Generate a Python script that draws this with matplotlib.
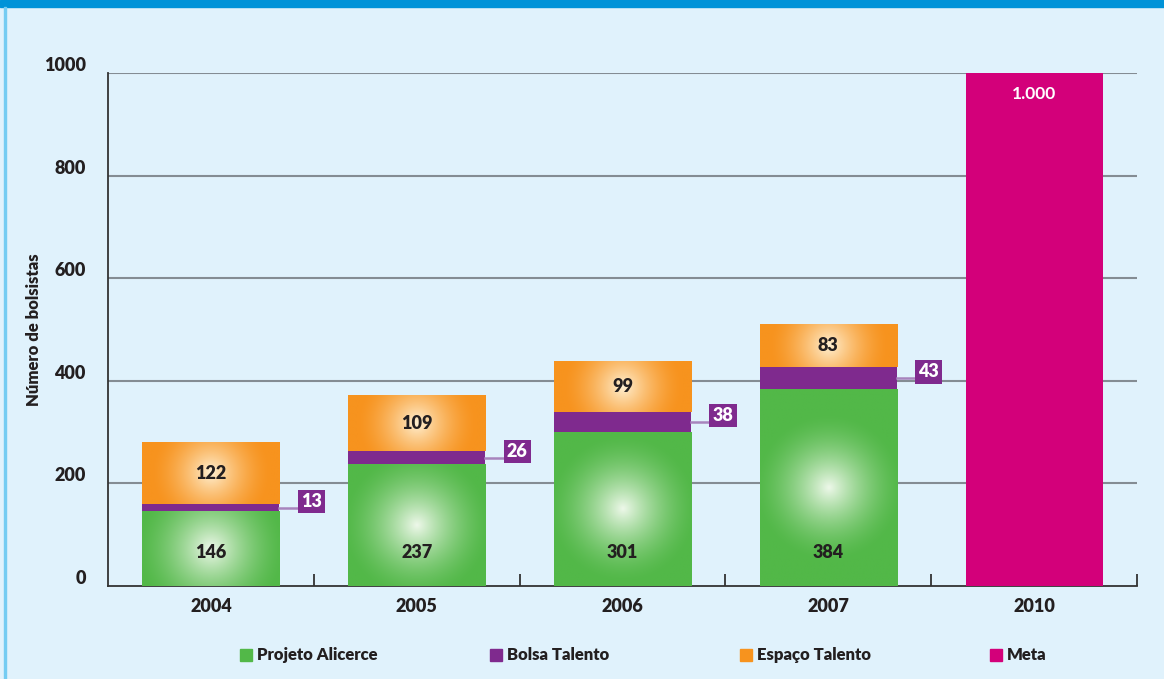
import numpy as np
import matplotlib
matplotlib.use('Agg')
import matplotlib.pyplot as plt
from matplotlib.patches import Rectangle
from matplotlib.colors import to_rgb
import matplotlib.transforms as mtransforms

plt.rcParams['font.family'] = ['Lato', 'DejaVu Sans']
plt.rcParams['font.weight'] = 'heavy'
plt.rcParams['axes.labelweight'] = 'heavy'

# data
anos = ['2004', '2005', '2006', '2007', '2010']
alicerce = [146, 237, 301, 384]
bolsa = [13, 26, 38, 43]
espaco = [122, 109, 99, 83]
meta = 1000
meta_label = '1.000'
yticks = [0, 200, 400, 600, 800, 1000]

c_green = '#52b848'
c_purple = '#7f2a8e'
c_orange = '#f7931e'
c_meta = '#d3007a'
bg = '#e0f2fc'

fig = plt.figure(figsize=(11.64, 6.79), dpi=100)
fig.patch.set_facecolor(bg)
fig.patches.append(Rectangle((0, 1 - 7 / 679), 1, 7 / 679, transform=fig.transFigure,
                             color='#0093d8', zorder=10))
fig.patches.append(Rectangle((4 / 1164, 0), 2 / 1164, 1 - 7 / 679, transform=fig.transFigure,
                             color='#74ccf2', zorder=10))

ax = fig.add_axes([108 / 1164, 93 / 679, 1029 / 1164, 513 / 679])
ax.set_facecolor(bg)
ax.set_xlim(-0.5, 4.5)
ax.set_ylim(0, 1000)

w = 0.666
x = np.arange(len(anos))

# px per data unit, for round glows
px_x = 1029 / 5.0
px_y = 513 / 1000.0


def glow_bar(xc, y0, h, base, hi, radius=70):
    bars = ax.bar(xc, h, w, bottom=y0, color=base, zorder=3, linewidth=0)
    nx, ny = 120, 120
    xs = np.linspace(-w / 2, w / 2, nx) * px_x
    ys = np.linspace(0, h, ny) * px_y
    ys = ys - ys.mean()
    X, Y = np.meshgrid(xs, ys)
    d = np.sqrt(X ** 2 + Y ** 2)
    t = np.clip(1 - d / radius, 0, 1) ** 1.6
    b = np.array(to_rgb(base))
    hcol = np.array(to_rgb(hi))
    img = b[None, None, :] * (1 - t[..., None]) + hcol[None, None, :] * t[..., None]
    im = ax.imshow(img, extent=(xc - w / 2, xc + w / 2, y0, y0 + h), origin='lower',
                   aspect='auto', zorder=4, interpolation='bilinear')
    im.set_clip_path(bars.patches[0])
    return bars


for i in range(4):
    glow_bar(x[i], 0, alicerce[i], c_green, '#eef8ea', radius=75)
    ax.bar(x[i], bolsa[i], w, bottom=alicerce[i], color=c_purple, zorder=5, linewidth=0)
    glow_bar(x[i], alicerce[i] + bolsa[i], espaco[i], c_orange, '#fff0d2', radius=60)

    ax.text(x[i], 66, str(alicerce[i]), ha='center', va='center', fontsize=13,
            color='#231f20', zorder=6)
    ax.text(x[i], alicerce[i] + bolsa[i] + espaco[i] / 2, str(espaco[i]), ha='center',
            va='center', fontsize=13, color='#231f20', zorder=6)

    ym = alicerce[i] + bolsa[i] / 2
    xe = x[i] + w / 2
    ax.plot([xe, xe + 20 / px_x], [ym, ym], color='#a784bd', lw=1.8, zorder=5)
    ax.text(xe + 32 / px_x, ym + 12, str(bolsa[i]), ha='center', va='center',
            fontsize=13, color='white', zorder=6,
            bbox=dict(boxstyle='square,pad=0.18', fc=c_purple, ec='none'))

ax.bar(x[4], meta, w, color=c_meta, zorder=3, linewidth=0)
ax.text(x[4], meta - 40, meta_label, ha='center', va='center', fontsize=12.5,
        color='white', fontweight='bold', zorder=6)

# grid and axes
for yv in yticks[1:]:
    ax.axhline(yv, color='#848c93', lw=1.5, zorder=1)
for s in ['top', 'right']:
    ax.spines[s].set_visible(False)
ax.spines['left'].set_color('#333333')
ax.spines['bottom'].set_color('#333333')
ax.spines['left'].set_linewidth(1.3)
ax.spines['bottom'].set_linewidth(1.3)

ax.set_yticks(yticks)
ax.set_yticklabels([str(v) for v in yticks], fontsize=13, color='#231f20')
ax.tick_params(axis='y', length=0, pad=16)
off = mtransforms.ScaledTranslation(0, 9 / 100, fig.dpi_scale_trans)
for lab in ax.get_yticklabels():
    lab.set_transform(lab.get_transform() + off)

ax.set_xticks(x)
ax.set_xticklabels(anos, fontsize=13, color='#231f20')
ax.tick_params(axis='x', which='major', length=0, pad=9)
ax.set_xticks(np.arange(0.5, 5, 1), minor=True)
ax.tick_params(axis='x', which='minor', direction='in', length=9, width=1.3, color='#333333')

ax.set_ylabel('Número de bolsistas', fontsize=12, color='#231f20', labelpad=0)
ax.yaxis.set_label_coords(-66 / 1029, 0.5)

# legend
leg_items = [('Projeto Alicerce', c_green, 240), ('Bolsa Talento', c_purple, 490),
             ('Espaço Talento', c_orange, 740), ('Meta', c_meta, 990)]
for name, col, px in leg_items:
    fig.patches.append(Rectangle((px / 1164, 1 - 661 / 679), 12 / 1164, 12 / 679,
                                 transform=fig.transFigure, color=col))
    fig.text((px + 17) / 1164, 1 - 655 / 679, name, ha='left', va='center',
             fontsize=12, color='#231f20')

fig.savefig('out.png', dpi=100, facecolor=bg)
